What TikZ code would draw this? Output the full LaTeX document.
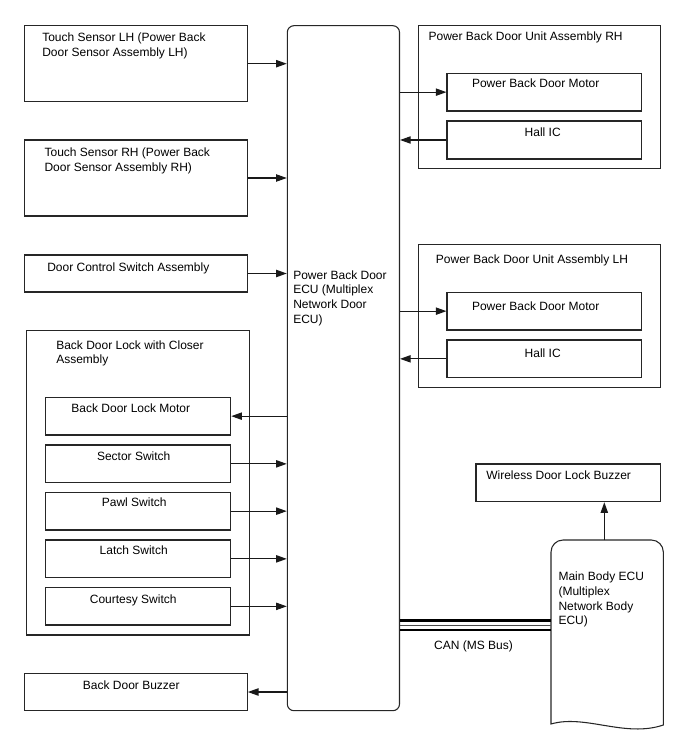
\documentclass[tikz,border=0pt]{standalone}
\usepackage{fontspec}
\setmainfont{Liberation Sans}
\usetikzlibrary{arrows.meta,fit}
\begin{document}
\begin{tikzpicture}[x=0.75pt,y=-0.75pt,
  box/.style={draw=black!85,line width=0.8pt,inner sep=0pt,fill=none},
  lbl/.style={inner sep=0pt,align=left,font=\fontsize{9}{11}\selectfont},
  arr/.style={draw=black!90,line width=0.8pt,-{Triangle[length=8pt,width=5.5pt]}}]
\useasboundingbox (0,0) rectangle (688,755);
% left column
\node[box,fit={(24.3,25.7) (247.3,101.7)}] (tsl) {};
\node[lbl,anchor=base west] (tslt) at (42,56.2) {Touch Sensor LH (Power Back\\Door Sensor Assembly LH)};
\node[box,fit={(24.3,140) (247.3,216)}] (tsr) {};
\node[lbl,anchor=base west] (tsrt) at (44.3,171.2) {Touch Sensor RH (Power Back\\Door Sensor Assembly RH)};
\node[box,fit={(24.3,255) (247.3,292)}] (dcs) {};
\node[lbl,anchor=base west] (dcst) at (47,272) {Door Control Switch Assembly};
% ECU
\node[box,rounded corners=5pt,fit={(287.3,25.7) (399.5,710.7)}] (ecu) {};
\node[lbl,anchor=base west] (ecut) at (293,323) {Power Back Door\\ECU (Multiplex\\Network Door\\ECU)};
% RH unit
\node[box,fit={(418.3,25.7) (660.7,168.3)}] (rhu) {};
\node[lbl,anchor=base west] (rhut) at (428.3,40.5) {Power Back Door Unit Assembly RH};
\node[box,fit={(447,73.3) (641.7,111)}] (rhm) {};
\node[lbl,anchor=base] (rhmt) at (535.7,88) {Power Back Door Motor};
\node[box,fit={(447,121) (641.7,159)}] (rhh) {};
\node[lbl,anchor=base] (rhht) at (542.7,136.3) {Hall IC};
% LH unit
\node[box,fit={(418.3,244.3) (660.7,387.3)}] (lhu) {};
\node[lbl,anchor=base west] (lhut) at (435.7,263) {Power Back Door Unit Assembly LH};
\node[box,fit={(447,292.3) (641.7,330)}] (lhm) {};
\node[lbl,anchor=base] (lhmt) at (535.7,310) {Power Back Door Motor};
\node[box,fit={(447,340) (641.7,377.7)}] (lhh) {};
\node[lbl,anchor=base] (lhht) at (542.7,357.3) {Hall IC};
% Back door lock assembly
\node[box,fit={(26.7,330.7) (249.3,635)}] (bdl) {};
\node[lbl,anchor=base west] (bdlt) at (56,363.7) {Back Door Lock with Closer\\Assembly};
\node[box,fit={(45.7,397.3) (230.7,435)}] (blm) {};
\node[lbl,anchor=base] (blmt) at (130.8,412) {Back Door Lock Motor};
\node[box,fit={(45.7,445) (230.7,482.7)}] (sec) {};
\node[lbl,anchor=base] (sect) at (133.7,460.7) {Sector Switch};
\node[box,fit={(45.7,492.3) (230.7,530)}] (paw) {};
\node[lbl,anchor=base] (pawt) at (134.2,506.7) {Pawl Switch};
\node[box,fit={(45.7,540) (230.7,577.7)}] (lat) {};
\node[lbl,anchor=base] (latt) at (133.7,554.7) {Latch Switch};
\node[box,fit={(45.7,587.7) (230.7,625)}] (cou) {};
\node[lbl,anchor=base] (cout) at (133.2,603.3) {Courtesy Switch};
% Back door buzzer
\node[box,fit={(24.3,673.3) (247.3,710.7)}] (bdb) {};
\node[lbl,anchor=base] (bdbt) at (131.3,689.7) {Back Door Buzzer};
% Wireless buzzer
\node[box,fit={(476,464) (660.7,501.7)}] (wdl) {};
\node[lbl,anchor=base west] (wdlt) at (486,479) {Wireless Door Lock Buzzer};
% Main body ECU (document shape)
\coordinate (mbtop) at (604.3,540);
\coordinate (mbl) at (551,625);
\draw[draw=black!85,line width=0.8pt] (551,724) [rounded corners=9pt] -- (551,540) -- (663.3,540) [sharp corners] -- (663.3,725)
  .. controls (625,738) and (585,714) .. (551,724) -- cycle;
\node[lbl,anchor=base west] (mbt) at (558.3,624.7) {Main Body ECU\\(Multiplex\\Network Body\\ECU)};
% connectors
\draw[arr] (tsl.east) -- (tsl.east -| ecu.west);
\draw[arr] (tsr.east) -- (tsr.east -| ecu.west);
\draw[arr] (dcs.east) -- (dcs.east -| ecu.west);
\draw[arr] (rhm.west -| ecu.east) -- (rhm.west);
\draw[arr] (rhh.west) -- (rhh.west -| ecu.east);
\draw[arr] (lhm.west -| ecu.east) -- (lhm.west);
\draw[arr] (lhh.west) -- (lhh.west -| ecu.east);
\draw[arr] (blm.east -| ecu.west) -- (blm.east);
\draw[arr] (sec.east) -- (sec.east -| ecu.west);
\draw[arr] (paw.east) -- (paw.east -| ecu.west);
\draw[arr] (lat.east) -- (lat.east -| ecu.west);
\draw[arr] (cou.east) -- (cou.east -| ecu.west);
\draw[arr] (bdb.east -| ecu.west) -- (bdb.east);
\draw[arr] (mbtop) -- (mbtop |- wdl.south);
% CAN bus
\draw[line width=2.1pt] (ecu.east |- 0,620.3) -- (mbl |- 0,620.3);
\draw[line width=0.7pt,black!70] (ecu.east |- 0,625.5) -- (mbl |- 0,625.5);
\draw[line width=1.4pt] (ecu.east |- 0,629.8) -- (mbl |- 0,629.8);
\node[lbl,anchor=base] (can) at (473.5,649) {CAN (MS Bus)};
\end{tikzpicture}
\end{document}
